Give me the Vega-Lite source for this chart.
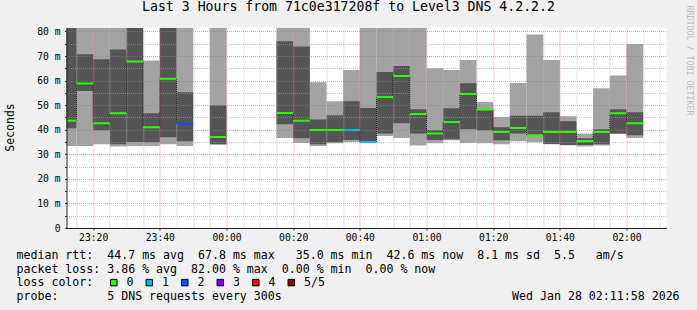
{
  "$schema": "https://vega.github.io/schema/vega-lite/v6.json",
  "width": 600,
  "height": 200,
  "autosize": {"type": "none"},
  "padding": {"left": 66.5, "top": 28, "right": 30.5, "bottom": 82},
  "background": "#F0F0F0",
  "config": {
    "font": "DejaVu Sans Mono",
    "view": {"fill": "#FFFFFF", "stroke": null}
  },
  "title": {
    "text": "Last 3 Hours from 71c0e317208f to Level3 DNS 4.2.2.2",
    "font": "DejaVu Sans Mono",
    "fontSize": 13.2,
    "fontWeight": "normal",
    "color": "#000000",
    "anchor": "middle",
    "dx": -18,
    "baseline": "alphabetic",
    "offset": -19
  },
  "data": {
    "values": [
      {"start": "2026-01-27T23:10:00", "end": "2026-01-27T23:15:00", "p1": 33.4, "p2": 40.6, "med": 43.6, "p4": 90, "p5": 95, "loss": "0", "nxt": 58.8},
      {"start": "2026-01-27T23:15:00", "end": "2026-01-27T23:20:00", "p1": 33.4, "p2": 55.8, "med": 58.8, "p4": 70.7, "p5": 95, "loss": "0", "nxt": 42.6},
      {"start": "2026-01-27T23:20:00", "end": "2026-01-27T23:25:00", "p1": 34.1, "p2": 39.8, "med": 42.6, "p4": 68.7, "p5": 95, "loss": "0", "nxt": 46.7},
      {"start": "2026-01-27T23:25:00", "end": "2026-01-27T23:30:00", "p1": 33.2, "p2": 34.1, "med": 46.7, "p4": 72.7, "p5": 95, "loss": "0", "nxt": 67.8},
      {"start": "2026-01-27T23:30:00", "end": "2026-01-27T23:35:00", "p1": 33.4, "p2": 35.0, "med": 67.8, "p4": 90, "p5": 95, "loss": "0", "nxt": 41.0},
      {"start": "2026-01-27T23:35:00", "end": "2026-01-27T23:40:00", "p1": 33.4, "p2": 34.9, "med": 41.0, "p4": 46.7, "p5": 68.2, "loss": "0", "nxt": 60.7},
      {"start": "2026-01-27T23:40:00", "end": "2026-01-27T23:45:00", "p1": 34.1, "p2": 36.9, "med": 60.7, "p4": 90, "p5": 95, "loss": "0", "nxt": 42.3},
      {"start": "2026-01-27T23:45:00", "end": "2026-01-27T23:50:00", "p1": 33.4, "p2": 35.3, "med": 42.3, "p4": 55.2, "p5": 95, "loss": "2", "nxt": null},
      {"start": "2026-01-27T23:55:00", "end": "2026-01-28T00:00:00", "p1": 34.0, "p2": 34.1, "med": 37.0, "p4": 49.9, "p5": 95, "loss": "0", "nxt": null},
      {"start": "2026-01-28T00:15:00", "end": "2026-01-28T00:20:00", "p1": 36.6, "p2": 42.2, "med": 46.8, "p4": 76.0, "p5": 95, "loss": "0", "nxt": 43.6},
      {"start": "2026-01-28T00:20:00", "end": "2026-01-28T00:25:00", "p1": 34.6, "p2": 36.5, "med": 43.6, "p4": 73.9, "p5": 95, "loss": "0", "nxt": 39.9},
      {"start": "2026-01-28T00:25:00", "end": "2026-01-28T00:30:00", "p1": 33.4, "p2": 34.1, "med": 39.9, "p4": 44.2, "p5": 59.3, "loss": "0", "nxt": 39.9},
      {"start": "2026-01-28T00:30:00", "end": "2026-01-28T00:35:00", "p1": 34.5, "p2": 34.9, "med": 39.9, "p4": 45.9, "p5": 51.6, "loss": "0", "nxt": 39.9},
      {"start": "2026-01-28T00:35:00", "end": "2026-01-28T00:40:00", "p1": 35.0, "p2": 35.8, "med": 39.9, "p4": 51.6, "p5": 64.3, "loss": "1", "nxt": 35.0},
      {"start": "2026-01-28T00:40:00", "end": "2026-01-28T00:45:00", "p1": 34.5, "p2": 35.0, "med": 35.0, "p4": 48.8, "p5": 95, "loss": "1", "nxt": 53.3},
      {"start": "2026-01-28T00:45:00", "end": "2026-01-28T00:50:00", "p1": 37.4, "p2": 38.5, "med": 53.3, "p4": 63.5, "p5": 95, "loss": "0", "nxt": 61.9},
      {"start": "2026-01-28T00:50:00", "end": "2026-01-28T00:55:00", "p1": 36.6, "p2": 42.6, "med": 61.9, "p4": 65.9, "p5": 95, "loss": "0", "nxt": 46.4},
      {"start": "2026-01-28T00:55:00", "end": "2026-01-28T01:00:00", "p1": 33.6, "p2": 38.5, "med": 46.4, "p4": 48.3, "p5": 95, "loss": "0", "nxt": 38.5},
      {"start": "2026-01-28T01:00:00", "end": "2026-01-28T01:05:00", "p1": 34.5, "p2": 35.8, "med": 38.5, "p4": 39.8, "p5": 65.0, "loss": "0", "nxt": 43.1},
      {"start": "2026-01-28T01:05:00", "end": "2026-01-28T01:10:00", "p1": 35.7, "p2": 36.1, "med": 43.1, "p4": 48.7, "p5": 64.3, "loss": "0", "nxt": 54.5},
      {"start": "2026-01-28T01:10:00", "end": "2026-01-28T01:15:00", "p1": 34.6, "p2": 40.2, "med": 54.5, "p4": 58.9, "p5": 68.4, "loss": "0", "nxt": 48.2},
      {"start": "2026-01-28T01:15:00", "end": "2026-01-28T01:20:00", "p1": 34.5, "p2": 39.8, "med": 48.2, "p4": 48.2, "p5": 51.3, "loss": "0", "nxt": 39.1},
      {"start": "2026-01-28T01:20:00", "end": "2026-01-28T01:25:00", "p1": 34.1, "p2": 35.7, "med": 39.1, "p4": 41.0, "p5": 45.2, "loss": "0", "nxt": 40.7},
      {"start": "2026-01-28T01:25:00", "end": "2026-01-28T01:30:00", "p1": 35.3, "p2": 38.5, "med": 40.7, "p4": 45.7, "p5": 59.0, "loss": "0", "nxt": 37.7},
      {"start": "2026-01-28T01:30:00", "end": "2026-01-28T01:35:00", "p1": 34.9, "p2": 37.4, "med": 37.7, "p4": 45.7, "p5": 78.8, "loss": "0", "nxt": 39.1},
      {"start": "2026-01-28T01:35:00", "end": "2026-01-28T01:40:00", "p1": 34.1, "p2": 34.2, "med": 39.1, "p4": 47.1, "p5": 68.4, "loss": "0", "nxt": 39.1},
      {"start": "2026-01-28T01:40:00", "end": "2026-01-28T01:45:00", "p1": 33.7, "p2": 33.8, "med": 39.1, "p4": 43.4, "p5": 45.5, "loss": "0", "nxt": 35.4},
      {"start": "2026-01-28T01:45:00", "end": "2026-01-28T01:50:00", "p1": 33.2, "p2": 33.8, "med": 35.4, "p4": 36.5, "p5": 38.5, "loss": "0", "nxt": 39.1},
      {"start": "2026-01-28T01:50:00", "end": "2026-01-28T01:55:00", "p1": 33.6, "p2": 34.1, "med": 39.1, "p4": 40.2, "p5": 56.9, "loss": "0", "nxt": 46.7},
      {"start": "2026-01-28T01:55:00", "end": "2026-01-28T02:00:00", "p1": 38.3, "p2": 38.5, "med": 46.7, "p4": 48.3, "p5": 62.1, "loss": "0", "nxt": 42.6},
      {"start": "2026-01-28T02:00:00", "end": "2026-01-28T02:05:00", "p1": 36.6, "p2": 37.7, "med": 42.6, "p4": 47.1, "p5": 74.9, "loss": "0", "nxt": null}
    ]
  },
  "resolve": {"axis": {"x": "independent", "y": "independent"}},
  "layer": [
    {
      "mark": {"type": "rect", "color": "#A3A3A3", "clip": true},
      "encoding": {
        "x": {
          "field": "start",
          "type": "temporal",
          "scale": {
            "domain": [
              {"year": 2026, "month": 1, "date": 27, "hours": 23, "minutes": 12},
              {"year": 2026, "month": 1, "date": 28, "hours": 2, "minutes": 12}
            ],
            "nice": false
          },
          "axis": {
            "orient": "bottom",
            "title": [
              "median rtt:\u00a0\u00a044.7 ms avg\u00a0\u00a067.8 ms max\u00a0\u00a0\u00a035.0 ms min\u00a0\u00a042.6 ms now\u00a0\u00a08.1 ms sd\u00a0\u00a05.5\u00a0\u00a0\u00a0am/s",
              "packet loss: 3.86 % avg\u00a0\u00a082.00 % max\u00a0\u00a00.00 % min\u00a0\u00a00.00 % now",
              "loss color:",
              "probe:\u00a0\u00a0\u00a0\u00a0\u00a0\u00a0\u00a05 DNS requests every 300s\u00a0\u00a0\u00a0\u00a0\u00a0\u00a0\u00a0\u00a0\u00a0\u00a0\u00a0\u00a0\u00a0\u00a0\u00a0\u00a0\u00a0\u00a0\u00a0\u00a0\u00a0\u00a0\u00a0\u00a0\u00a0\u00a0\u00a0\u00a0\u00a0\u00a0\u00a0\u00a0\u00a0Wed Jan 28 02:11:58 2026"
            ],
            "titleFont": "DejaVu Sans Mono",
            "titleFontSize": 11.6,
            "titleFontWeight": "normal",
            "titleColor": "#000000",
            "titleAnchor": "start",
            "titleAlign": "left",
            "titleBaseline": "alphabetic",
            "titleX": -50.5,
            "titleY": 30.5,
            "titleLineHeight": 13.7,
            "values": [
              {"year": 2026, "month": 1, "date": 27, "hours": 23, "minutes": 20},
              {"year": 2026, "month": 1, "date": 27, "hours": 23, "minutes": 40},
              {"year": 2026, "month": 1, "date": 28, "hours": 0, "minutes": 0},
              {"year": 2026, "month": 1, "date": 28, "hours": 0, "minutes": 20},
              {"year": 2026, "month": 1, "date": 28, "hours": 0, "minutes": 40},
              {"year": 2026, "month": 1, "date": 28, "hours": 1, "minutes": 0},
              {"year": 2026, "month": 1, "date": 28, "hours": 1, "minutes": 20},
              {"year": 2026, "month": 1, "date": 28, "hours": 1, "minutes": 40},
              {"year": 2026, "month": 1, "date": 28, "hours": 2, "minutes": 0}
            ],
            "format": "%H:%M",
            "labelOverlap": false,
            "labelFlush": false,
            "labelFont": "DejaVu Sans Mono",
            "labelFontSize": 9.7,
            "labelColor": "#000000",
            "labelPadding": 2,
            "tickSize": 2,
            "tickColor": "#333333",
            "domainColor": "#222222",
            "grid": true,
            "gridColor": "#E06060",
            "gridDash": [1, 1],
            "gridOpacity": 0.6,
            "zindex": 1
          }
        },
        "x2": {"field": "end"},
        "y": {
          "field": "p1",
          "type": "quantitative",
          "scale": {"domain": [0, 81.4], "nice": false, "zero": true},
          "axis": {
            "title": "Seconds",
            "titleFont": "DejaVu Sans Mono",
            "titleFontSize": 11.5,
            "titleFontWeight": "normal",
            "titleColor": "#000000",
            "titleAngle": 270,
            "titleAlign": "center",
            "titleBaseline": "middle",
            "titleX": -56.5,
            "titleY": 99,
            "values": [0, 5, 10, 15, 20, 25, 30, 35, 40, 45, 50, 55, 60, 65, 70, 75, 80],
            "labelExpr": "datum.value % 10 === 0 ? (datum.value === 0 ? '0' : datum.value + ' m') : ''",
            "labelFont": "DejaVu Sans Mono",
            "labelFontSize": 9.7,
            "labelColor": "#000000",
            "labelPadding": 4.5,
            "tickSize": 2,
            "tickColor": "#333333",
            "domainColor": "#222222",
            "grid": true,
            "gridColor": {"condition": {"test": "datum.value % 10 === 0", "value": "#E06060"}, "value": "#A0A0A0"},
            "gridDash": [1, 1],
            "gridOpacity": 0.6,
            "zindex": 1
          }
        },
        "y2": {"field": "p5"}
      }
    },
    {
      "mark": {"type": "rect", "color": "#555555", "clip": true},
      "encoding": {
        "x": {
          "field": "start",
          "type": "temporal",
          "axis": {
            "orient": "top",
            "title": null,
            "labels": false,
            "ticks": false,
            "domain": false,
            "values": [
              {"year": 2026, "month": 1, "date": 27, "hours": 23, "minutes": 15},
              {"year": 2026, "month": 1, "date": 27, "hours": 23, "minutes": 25},
              {"year": 2026, "month": 1, "date": 27, "hours": 23, "minutes": 30},
              {"year": 2026, "month": 1, "date": 27, "hours": 23, "minutes": 35},
              {"year": 2026, "month": 1, "date": 27, "hours": 23, "minutes": 45},
              {"year": 2026, "month": 1, "date": 27, "hours": 23, "minutes": 50},
              {"year": 2026, "month": 1, "date": 27, "hours": 23, "minutes": 55},
              {"year": 2026, "month": 1, "date": 28, "hours": 0, "minutes": 5},
              {"year": 2026, "month": 1, "date": 28, "hours": 0, "minutes": 10},
              {"year": 2026, "month": 1, "date": 28, "hours": 0, "minutes": 15},
              {"year": 2026, "month": 1, "date": 28, "hours": 0, "minutes": 25},
              {"year": 2026, "month": 1, "date": 28, "hours": 0, "minutes": 30},
              {"year": 2026, "month": 1, "date": 28, "hours": 0, "minutes": 35},
              {"year": 2026, "month": 1, "date": 28, "hours": 0, "minutes": 45},
              {"year": 2026, "month": 1, "date": 28, "hours": 0, "minutes": 50},
              {"year": 2026, "month": 1, "date": 28, "hours": 0, "minutes": 55},
              {"year": 2026, "month": 1, "date": 28, "hours": 1, "minutes": 5},
              {"year": 2026, "month": 1, "date": 28, "hours": 1, "minutes": 10},
              {"year": 2026, "month": 1, "date": 28, "hours": 1, "minutes": 15},
              {"year": 2026, "month": 1, "date": 28, "hours": 1, "minutes": 25},
              {"year": 2026, "month": 1, "date": 28, "hours": 1, "minutes": 30},
              {"year": 2026, "month": 1, "date": 28, "hours": 1, "minutes": 35},
              {"year": 2026, "month": 1, "date": 28, "hours": 1, "minutes": 45},
              {"year": 2026, "month": 1, "date": 28, "hours": 1, "minutes": 50},
              {"year": 2026, "month": 1, "date": 28, "hours": 1, "minutes": 55},
              {"year": 2026, "month": 1, "date": 28, "hours": 2, "minutes": 5},
              {"year": 2026, "month": 1, "date": 28, "hours": 2, "minutes": 10}
            ],
            "grid": true,
            "gridColor": "#A0A0A0",
            "gridDash": [1, 1],
            "gridOpacity": 0.6,
            "zindex": 1
          }
        },
        "x2": {"field": "end"},
        "y": {
          "field": "p2",
          "type": "quantitative",
          "axis": {
            "orient": "right",
            "title": "RRDTOOL / TOBI OETIKER",
            "grid": false,
            "labels": false,
            "ticks": false,
            "domain": false,
            "titleAngle": 90,
            "titleAlign": "center",
            "titleBaseline": "middle",
            "titleX": 21.5,
            "titleY": 32,
            "titleFont": "DejaVu Sans Mono",
            "titleFontSize": 8.3,
            "titleFontWeight": "normal",
            "titleColor": "#BDBDBD"
          }
        },
        "y2": {"field": "p4"}
      }
    },
    {
      "mark": {"type": "rule", "color": "#000000", "strokeWidth": 1, "strokeDash": [1, 1], "clip": true},
      "encoding": {
        "x": {"field": "end", "type": "temporal", "axis": null},
        "y": {"field": "med", "type": "quantitative", "axis": null},
        "y2": {"field": "nxt"}
      }
    },
    {
      "mark": {"type": "rule", "strokeWidth": 2, "clip": true},
      "encoding": {
        "x": {"field": "start", "type": "temporal", "axis": null},
        "x2": {"field": "end"},
        "y": {"field": "med", "type": "quantitative", "axis": null},
        "stroke": {
          "field": "loss",
          "type": "nominal",
          "scale": {
            "domain": ["0", "1", "2"],
            "range": ["#26FF00", "#00B8FF", "#0059FF"]
          },
          "legend": null
        }
      }
    },
    {
      "mark": {"type": "square", "filled": true, "opacity": 0, "stroke": "#000000", "clip": true},
      "encoding": {
        "x": {"field": "start", "type": "temporal", "axis": null},
        "y": {"field": "med", "type": "quantitative", "axis": null},
        "color": {
          "field": "loss",
          "type": "nominal",
          "scale": {
            "domain": ["0", "1", "2", "3", "4", "5/5"],
            "range": ["#26FF00", "#00B8FF", "#0059FF", "#7E00FF", "#FF0000", "#A10000"]
          },
          "legend": {
            "orient": "none",
            "legendX": 41.5,
            "legendY": 248.5,
            "direction": "horizontal",
            "title": null,
            "symbolType": "square",
            "symbolSize": 42,
            "symbolOpacity": 1,
            "symbolStrokeWidth": 1,
            "labelFont": "DejaVu Sans Mono",
            "labelFontSize": 11.6,
            "labelColor": "#000000",
            "labelOffset": 7,
            "columnPadding": 9.5
          }
        }
      }
    }
  ]
}
